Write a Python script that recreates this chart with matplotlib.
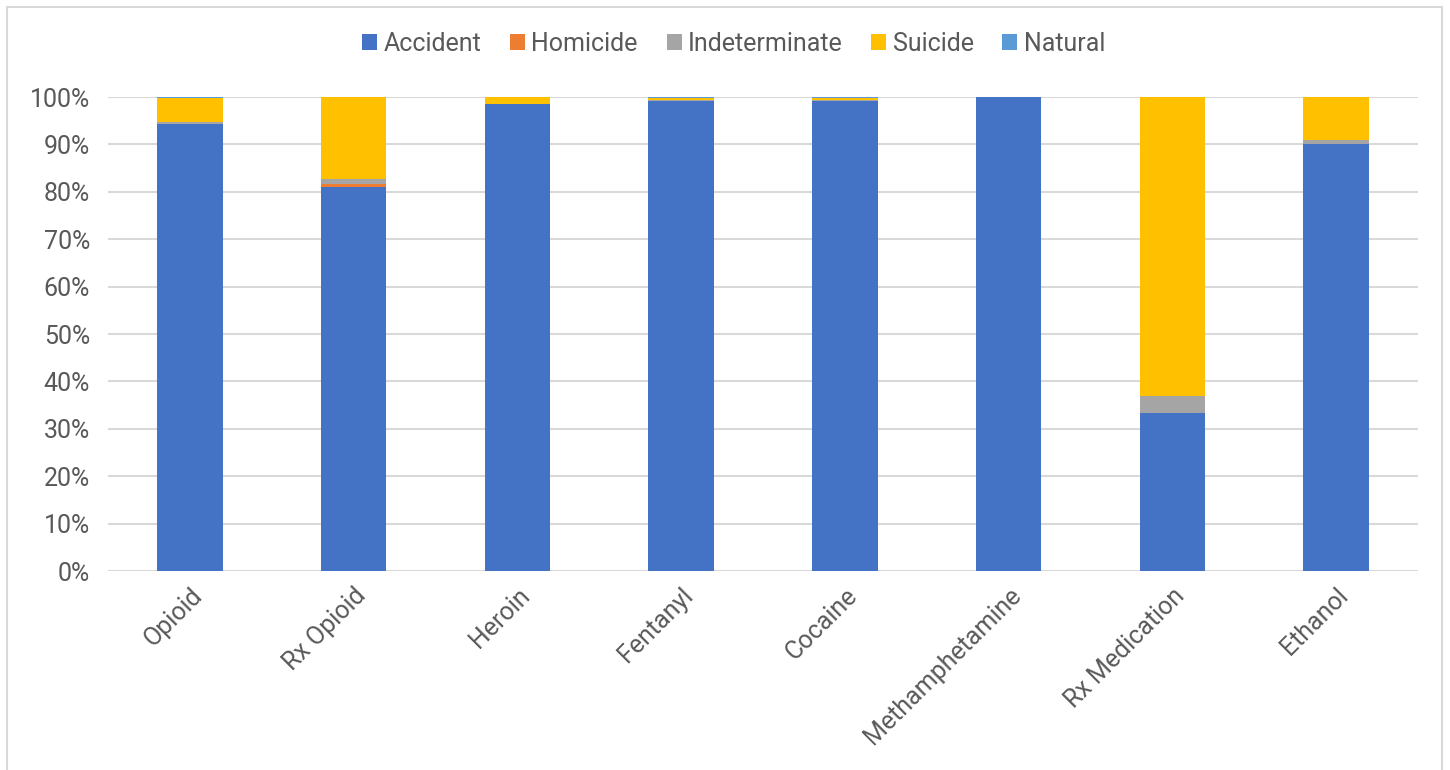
import matplotlib.pyplot as plt
import numpy as np
from matplotlib.patches import Rectangle
from matplotlib.ticker import FuncFormatter

plt.rcParams["font.family"] = ["Roboto", "DejaVu Sans"]

categories = ["Opioid", "Rx Opioid", "Heroin", "Fentanyl", "Cocaine",
              "Methamphetamine", "Rx Medication", "Ethanol"]
accident = [94.4, 81.1, 98.6, 99.2, 99.2, 100.0, 33.3, 90.1]
homicide = [0.0, 0.5, 0.0, 0.0, 0.0, 0.0, 0.0, 0.0]
indeterminate = [0.3, 1.0, 0.0, 0.1, 0.2, 0.0, 3.7, 0.9]
suicide = [5.1, 17.4, 1.4, 0.5, 0.3, 0.0, 63.0, 9.0]
natural = [0.2, 0.0, 0.0, 0.2, 0.3, 0.0, 0.0, 0.0]

series = [
    ("Accident", accident, "#4472C4"),
    ("Homicide", homicide, "#ED7D31"),
    ("Indeterminate", indeterminate, "#A5A5A5"),
    ("Suicide", suicide, "#FFC000"),
    ("Natural", natural, "#5B9BD5"),
]

text_color = "#595959"
grid_color = "#D9D9D9"

fig = plt.figure(figsize=(14.5, 7.7), dpi=100)
ax = fig.add_axes([0.0745, 0.2584, 0.9035, 0.6156])

# chart frame
fig.patches.append(Rectangle((7 / 1450, -0.01), 1435 / 1450, 1 - 7 / 770 + 0.01,
                             transform=fig.transFigure, fill=False,
                             edgecolor=grid_color, lw=1.5))

x = np.arange(len(categories))
bottom = np.zeros(len(categories))
for name, vals, color in series:
    vals = np.array(vals)
    ax.bar(x, vals, width=0.4, bottom=bottom, color=color, label=name, zorder=3)
    bottom += vals

ax.set_xlim(-0.5, len(categories) - 0.5)
ax.set_ylim(0, 100)
ax.set_yticks(np.arange(0, 101, 10))
ax.yaxis.set_major_formatter(FuncFormatter(lambda v, p: f"{v:.0f}%"))
ax.grid(axis="y", color=grid_color, lw=1.5, zorder=0)
ax.set_axisbelow(True)
for s in ax.spines.values():
    s.set_visible(False)
ax.tick_params(axis="both", length=0, labelsize=18, labelcolor=text_color)
ax.tick_params(axis="y", pad=13)
ax.set_xticks(x)
ax.set_xticklabels(categories, rotation=45, ha="right", rotation_mode="anchor")
ax.tick_params(axis="x", pad=9)

leg = fig.legend(loc="center", bbox_to_anchor=(0.506, 1 - 44 / 770), ncol=5,
                 frameon=False, fontsize=18, handlelength=0.6, handleheight=0.6,
                 handletextpad=0.25, columnspacing=1.15)
for t in leg.get_texts():
    t.set_color(text_color)

fig.savefig("out.png", dpi=100)
